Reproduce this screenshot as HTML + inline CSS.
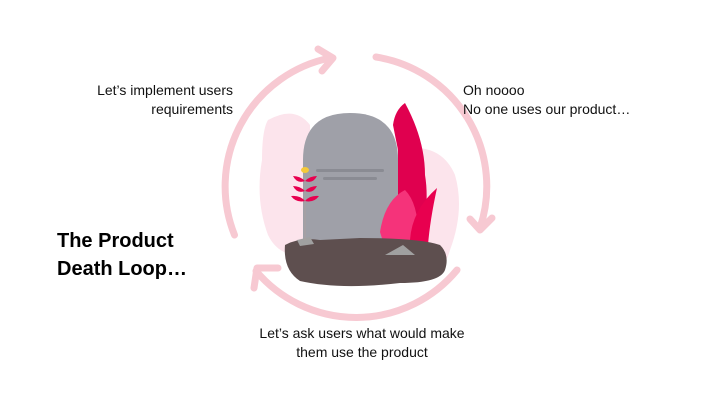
<!DOCTYPE html>
<html><head><meta charset="utf-8"><style>
body{margin:0;width:720px;height:405px;background:#fff;overflow:hidden;font-family:"Liberation Sans",sans-serif}
.t{position:absolute;font-size:14px;line-height:19px;color:#111}
</style></head><body>
<svg width="720" height="405" style="position:absolute;left:0;top:0">
<g fill="none" stroke="#f7c9d2" stroke-width="7" stroke-linecap="round" stroke-linejoin="round">
<path d="M234.5 235 A131 131 0 0 1 330 58"/>
<polyline points="318,49 333,58 322,71"/>
<path d="M376 57 A131 131 0 0 1 480 228"/>
<polyline points="470,219 480,230 492,218"/>
<path d="M457 270 A131 131 0 0 1 256 271"/>
<polyline points="254,288 257,268 278,268"/>
</g>
<path d="M268 120 Q295 105 310 125 L312 255 Q280 260 268 235 Q255 200 262 160 Q262 130 268 120Z" fill="#fce4ec"/>
<path d="M395 150 Q440 140 455 175 Q465 210 450 250 Q440 285 410 280 L395 250Z" fill="#fce4ec"/>
<path d="M303 245 L303 160 Q303 113 350 113 Q398 113 398 160 L398 245Z" fill="#9fa0a8"/>
<rect x="316" y="169" width="68" height="3" rx="1.5" fill="#8a8b93"/>
<rect x="323" y="177" width="54" height="3" rx="1.5" fill="#8a8b93"/>
<path d="M393 125 Q395 110 405 103 Q425 140 425 175 Q430 205 420 245 L398 245 L398 150Z" fill="#e0004f"/>
<path d="M380 232 Q385 200 405 190 Q420 205 418 245 L385 248Z" fill="#f5337a"/>
<path d="M410 240 Q412 210 437 188 Q430 220 428 245Z" fill="#e8004f"/>
<path d="M285 245 Q300 237 320 240 L360 238 Q420 238 440 245 Q450 255 445 270 Q440 283 400 283 Q340 290 300 281 Q283 270 285 245Z" fill="#5e4f4f"/>
<path d="M385 255 L403 245 L415 255 Z" fill="#a0a0a0"/>
<path d="M297 240 L310 237 L314 244 L300 246Z" fill="#a0a0a0"/>
<line x1="305" y1="170" x2="305" y2="240" stroke="#a9a0a0" stroke-width="1"/>
<ellipse cx="305" cy="170" rx="4" ry="3" fill="#f5c93a"/>
<path d="M293 176 Q300 176 305 181 Q297 184 293 176Z M317 176 Q310 176 305 181 Q313 184 317 176Z M293 186 Q300 186 305 191 Q297 194 293 186Z M317 186 Q310 186 305 191 Q313 194 317 186Z M291 196 Q300 195 305 201 Q296 203 291 196Z M319 196 Q310 195 305 201 Q314 203 319 196Z" fill="#e8004f"/>
</svg>
<div class="t" style="right:487px;top:81px;text-align:right">Let’s implement users<br>requirements</div>
<div class="t" style="left:463px;top:81px">Oh noooo<br>No one uses our product…</div>
<div class="t" style="left:242px;width:240px;top:324px;text-align:center">Let’s ask users what would make<br>them use the product</div>
<div style="position:absolute;left:57px;top:227px;font-size:20px;line-height:28px;font-weight:bold;color:#000">The Product<br>Death Loop…</div>
</body></html>
